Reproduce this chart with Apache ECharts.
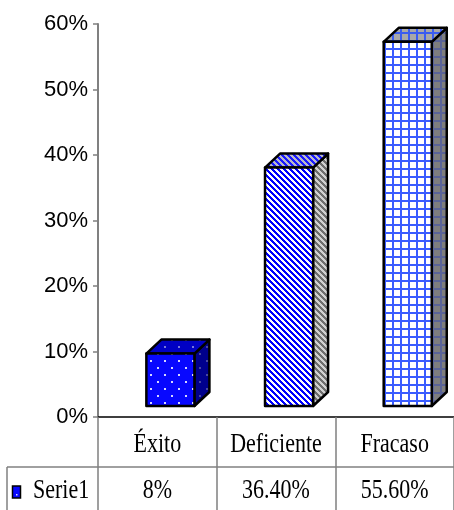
<!DOCTYPE html>
<html>
<head>
<meta charset="utf-8">
<script src="https://cdn.jsdelivr.net/npm/echarts@6/dist/echarts.min.js"></script>
<style>
  html, body { margin: 0; padding: 0; background: #ffffff; }
  #chart { width: 454px; height: 510px; }
</style>
</head>
<body>
<div id="chart"></div>
<script>
// Chart data
const categories = ['Éxito', 'Deficiente', 'Fracaso'];
const values = [8, 36.4, 55.6];
const valueLabels = ['8%', '36.40%', '55.60%'];
const seriesName = 'Serie1';
const yMin = 0, yMax = 60, yStep = 10;

// Tiled fills for the box faces
function makeTile(w, h, draw) {
  const c = document.createElement('canvas');
  c.width = w; c.height = h;
  const g = c.getContext('2d');
  draw(g, w, h);
  return { image: c, repeat: 'repeat' };
}
function dots(bg, dot) {
  return makeTile(14, 14, function (g) {
    g.fillStyle = bg; g.fillRect(0, 0, 14, 14);
    g.fillStyle = dot;
    g.fillRect(3, 3, 2, 2);
    g.fillRect(10, 10, 2, 2);
  });
}
function stripes(a, b) {
  return makeTile(6, 6, function (g) {
    for (let y = 0; y < 6; y++) {
      for (let x = 0; x < 6; x++) {
        g.fillStyle = ((x - y + 60) % 6) < 3 ? a : b;
        g.fillRect(x, y, 1, 1);
      }
    }
  });
}
function gridTile(bg, line) {
  return makeTile(8, 8, function (g) {
    g.fillStyle = bg; g.fillRect(0, 0, 8, 8);
    g.fillStyle = line;
    g.fillRect(0, 0, 8, 2);
    g.fillRect(0, 0, 2, 8);
  });
}

const faceFills = [
  { front: dots('#0808ff', '#d8d8ff'), top: dots('#0000c4', '#7878d8'), side: dots('#00008c', '#4848a0') },
  { front: stripes('#0000ff', '#ffffff'), top: stripes('#1a1aff', '#b8b8c8'), side: stripes('#6e6e6e', '#d0d0d0') },
  { front: gridTile('#ffffff', '#3a5cff'), top: gridTile('#a8a8a8', '#3a5cf0'), side: gridTile('#7e7e7e', '#5a6498') }
];

// 3D box geometry (pixels)
const DEPTH_X = 15, DEPTH_Y = 14, LIFT = 11;

const chart = echarts.init(document.getElementById('chart'), null, { renderer: 'canvas' });

const option = {
  animation: false,
  backgroundColor: '#ffffff',
  grid: { left: 98, right: -2, top: 24, bottom: 93, containLabel: false },
  xAxis: {
    type: 'category',
    data: categories,
    boundaryGap: true,
    axisLine: { show: true, lineStyle: { color: '#000000', width: 1.5 } },
    axisTick: { show: true, interval: 0, alignWithLabel: false, length: 93, lineStyle: { color: '#808080', width: 1.5 } },
    axisLabel: { show: false },
    splitLine: { show: false }
  },
  yAxis: {
    type: 'value',
    min: yMin, max: yMax, interval: yStep,
    axisLine: { show: true, lineStyle: { color: '#808080', width: 2 } },
    axisTick: { show: true, length: 5, lineStyle: { color: '#808080', width: 1.5 } },
    axisLabel: {
      margin: 10,
      formatter: '{value}%',
      fontFamily: 'Liberation Sans',
      fontSize: 22,
      color: '#000000'
    },
    splitLine: { show: false }
  },
  series: [{
    type: 'custom',
    name: seriesName,
    data: values.map(function (v, i) { return [i, v]; }),
    renderItem: function (params, api) {
      const i = params.dataIndex;
      const base = api.coord([api.value(0), 0]);
      const top = api.coord([api.value(0), api.value(1)]);
      const band = api.size([1, 0])[0];
      const w = band * 0.405;
      const x0 = base[0] + band * 0.11 - w / 2;
      const x1 = x0 + w;
      const yb = base[1] - LIFT;
      const yt = top[1] - LIFT;
      const edge = { stroke: '#000000', lineWidth: 2.5, lineJoin: 'round' };
      const f = faceFills[i];
      return {
        type: 'group',
        children: [
          { type: 'polygon', shape: { points: [[x1, yt], [x1 + DEPTH_X, yt - DEPTH_Y], [x1 + DEPTH_X, yb - DEPTH_Y], [x1, yb]] },
            style: Object.assign({ fill: f.side }, edge) },
          { type: 'polygon', shape: { points: [[x0, yt], [x0 + DEPTH_X, yt - DEPTH_Y], [x1 + DEPTH_X, yt - DEPTH_Y], [x1, yt]] },
            style: Object.assign({ fill: f.top }, edge) },
          { type: 'rect', shape: { x: x0, y: yt, width: w, height: yb - yt },
            style: Object.assign({ fill: f.front }, edge) }
        ]
      };
    }
  }]
};

chart.setOption(option);

// Data table under the plot: category row, value row, series key
const baseY = chart.convertToPixel({ yAxisIndex: 0 }, 0);
const row1Y = baseY + 28;
const row2Top = baseY + 50;
const row2Y = baseY + 74;
const tableFont = '22px "Liberation Serif"';
const textScaleY = 1.2;
const graphics = [];

graphics.push({ type: 'line', shape: { x1: 7, y1: row2Top, x2: 460, y2: row2Top }, style: { stroke: '#808080', lineWidth: 1.5 } });
graphics.push({ type: 'line', shape: { x1: 7, y1: row2Top, x2: 7, y2: 512 }, style: { stroke: '#808080', lineWidth: 1.5 } });

categories.forEach(function (c, i) {
  const cx = chart.convertToPixel({ xAxisIndex: 0 }, i);
  graphics.push({ type: 'text', x: cx, y: row1Y, scaleY: textScaleY,
    style: { text: c, font: tableFont, fill: '#000000', align: 'center', verticalAlign: 'middle' } });
  graphics.push({ type: 'text', x: cx, y: row2Y, scaleY: textScaleY,
    style: { text: valueLabels[i], font: tableFont, fill: '#000000', align: 'center', verticalAlign: 'middle' } });
});

graphics.push({ type: 'rect', shape: { x: 12.5, y: row2Y - 5, width: 8, height: 12 },
  style: { fill: '#0808ff', stroke: '#000000', lineWidth: 1.5 } });
graphics.push({ type: 'rect', shape: { x: 16, y: row2Y + 3, width: 1.5, height: 1.5 },
  style: { fill: '#d8d8ff' } });
graphics.push({ type: 'text', x: 33, y: row2Y, scaleY: textScaleY,
  style: { text: seriesName, font: tableFont, fill: '#000000', align: 'left', verticalAlign: 'middle' } });

chart.setOption({ graphic: graphics });
</script>
</body>
</html>
